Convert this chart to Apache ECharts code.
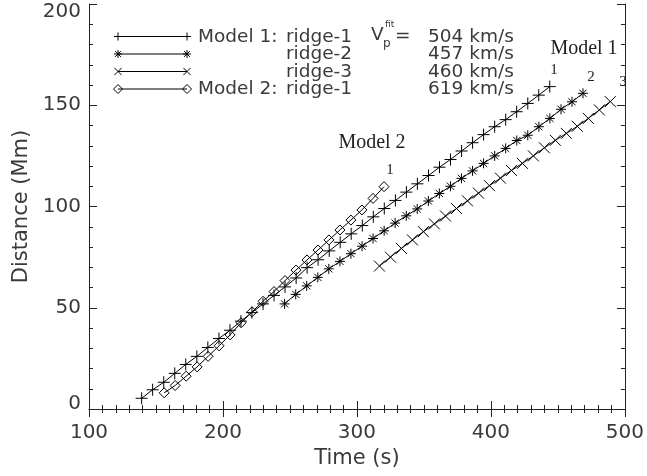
<!DOCTYPE html>
<html>
<head>
<meta charset="utf-8">
<script src="https://cdn.jsdelivr.net/npm/echarts@6/dist/echarts.min.js"></script>
<style>
  html, body { margin: 0; padding: 0; background: #fff; }
  #chart { width: 647px; height: 476px; }
</style>
</head>
<body>
<div id="chart"></div>
<script>
// Ridge tracks: time (s) and front distance (Mm)
const m1r1Time = [139.3, 147.5, 155.8, 164.0, 172.2, 180.5, 188.7, 197.0, 205.2, 213.4,
                  221.6, 229.9, 238.1, 246.3, 254.6, 262.8, 271.0, 279.3, 287.5, 295.7,
                  304.0, 312.2, 320.4, 328.7, 336.9, 345.1, 353.4, 361.6, 369.8, 378.1,
                  386.3, 394.5, 402.8, 411.0, 419.2, 427.5, 435.7, 443.9];
const m1r1Dist = [5.3, 9.5, 13.2, 17.6, 22.0, 26.0, 30.4, 34.8, 38.9, 43.4,
                  47.6, 51.9, 56.1, 60.3, 64.7, 69.8, 73.7, 78.1, 82.3, 86.5,
                  90.6, 94.9, 99.0, 103.0, 107.1, 111.2, 115.3, 119.4, 123.2, 127.4,
                  131.5, 135.5, 139.4, 142.9, 146.8, 150.9, 155.0, 159.2];

const m1r2Time = [246.0, 254.3, 262.5, 270.8, 279.0, 287.3, 295.5, 303.8, 312.0, 320.3,
                  328.5, 336.8, 345.0, 353.3, 361.5, 369.8, 378.0, 386.3, 394.5, 402.8,
                  411.0, 419.3, 427.5, 435.8, 444.0, 452.3, 460.5, 468.7];
const m1r2Dist = [51.9, 56.6, 60.8, 65.0, 69.2, 72.9, 76.7, 80.4, 84.2, 88.0,
                  91.8, 95.4, 98.8, 102.7, 106.4, 110.0, 113.9, 117.6, 121.3, 125.0,
                  128.7, 132.6, 135.2, 139.4, 143.5, 148.0, 151.7, 155.9];

const m1r3Time = [316.8, 325.0, 333.2, 341.4, 349.6, 357.8, 366.1, 374.3, 382.5, 390.7,
                  398.9, 407.1, 415.3, 423.5, 431.7, 439.9, 448.1, 456.3, 464.5, 472.7,
                  480.9, 489.1];
const m1r3Dist = [70.6, 75.0, 79.3, 83.5, 87.6, 91.4, 95.3, 99.0, 102.8, 106.6,
                  110.3, 114.0, 117.8, 121.3, 125.0, 129.0, 132.7, 136.1, 139.6, 143.5,
                  147.7, 151.8];

const m2r1Time = [156.1, 164.3, 172.5, 180.7, 188.9, 197.1, 205.3, 213.5, 221.7, 229.9,
                  238.1, 246.3, 254.5, 262.7, 270.9, 279.1, 287.3, 295.5, 303.7, 312.0,
                  320.2];
const m2r1Dist = [8.0, 11.6, 16.2, 20.8, 26.0, 31.2, 36.6, 42.6, 48.0, 53.2,
                  58.0, 63.4, 68.6, 73.6, 78.5, 83.5, 88.4, 93.3, 98.3, 104.0,
                  109.8];

// Legend rows
const legendModel = ['Model 1:', '', '', 'Model 2:'];
const legendRidge = ['ridge-1', 'ridge-2', 'ridge-3', 'ridge-1'];
const fitSpeed = [504, 457, 460, 619];           // km/s
const legendMarker = ['plus', 'star', 'cross', 'diamond'];

// Axis ranges
const xRange = [100, 500, 100];
const yRange = [0, 200, 50];

// Marker shapes as stroke segments (unit half-size 5)
const markerSegs = {
  plus:  [[0, -5, 0, 5], [-5, 0, 5, 0]],
  cross: [[-4.5, -4.5, 4.5, 4.5], [-4.5, 4.5, 4.5, -4.5]],
  star:  [[0, -5, 0, 5], [-5, 0, 5, 0], [-3.6, -3.6, 3.6, 3.6], [-3.6, 3.6, 3.6, -3.6]]
};
function symbolPath(kind) {
  if (kind === 'diamond') return 'path://M0 -5L5 0L0 5L-5 0Z';
  return 'path://' + markerSegs[kind].map(s => `M${s[0]} ${s[1]}L${s[2]} ${s[3]}`).join('');
}
function markerGraphic(kind, cx, cy) {
  const st = { stroke: '#000', lineWidth: 1, fill: 'none' };
  if (kind === 'diamond') {
    return [{ type: 'polygon', shape: { points: [[cx, cy - 4.5], [cx + 4.5, cy], [cx, cy + 4.5], [cx - 4.5, cy]] }, style: st }];
  }
  return markerSegs[kind].map(s => ({
    type: 'line',
    shape: { x1: cx + s[0] * 0.8, y1: cy + s[1] * 0.8, x2: cx + s[2] * 0.8, y2: cy + s[3] * 0.8 },
    style: st
  }));
}

const zip = (t, d) => t.map((v, i) => [v, d[i]]);

const sansFont = '"DejaVu Sans", sans-serif';
const serifFont = '"Liberation Serif", "Times New Roman", serif';
const textColor = '#3a3a3a';
const axisColor = '#222';

function lineSeries(name, data, kind, size) {
  return {
    name, type: 'line', data,
    symbol: symbolPath(kind), symbolSize: size,
    showAllSymbol: true,
    lineStyle: { color: '#000', width: 1 },
    itemStyle: { color: 'rgba(0,0,0,0)', borderColor: '#000', borderWidth: 1 },
    emphasis: { disabled: true },
    animation: false
  };
}

// Legend and annotation graphics
const graphics = [];
const rowY = [36.5, 54, 71.5, 89];
const legendFont = 18.5;
rowY.forEach((y, i) => {
  graphics.push({ type: 'line', shape: { x1: 118, y1: y, x2: 187, y2: y }, style: { stroke: '#000', lineWidth: 1 } });
  graphics.push(...markerGraphic(legendMarker[i], 118, y));
  graphics.push(...markerGraphic(legendMarker[i], 187, y));
  if (legendModel[i]) {
    graphics.push({ type: 'text', x: 198, y: y + 0.5,
      style: { text: legendModel[i], fontSize: legendFont, fontFamily: sansFont, fill: textColor, align: 'left', verticalAlign: 'middle' } });
  }
  graphics.push({ type: 'text', x: 286, y: y + 0.5,
    style: { text: legendRidge[i], fontSize: legendFont, fontFamily: sansFont, fill: textColor, align: 'left', verticalAlign: 'middle' } });
  graphics.push({ type: 'text', x: 428, y: y + 0.5,
    style: { text: fitSpeed[i] + ' km/s', fontSize: legendFont, fontFamily: sansFont, fill: textColor, align: 'left', verticalAlign: 'middle' } });
});
// V_p^fit =
graphics.push({ type: 'text', x: 371, y: 35, style: { text: 'V', fontSize: legendFont, fontFamily: sansFont, fill: textColor, align: 'left', verticalAlign: 'middle' } });
graphics.push({ type: 'text', x: 383, y: 44, style: { text: 'p', fontSize: 12, fontFamily: sansFont, fill: textColor, align: 'left', verticalAlign: 'middle' } });
graphics.push({ type: 'text', x: 385, y: 25, style: { text: 'fit', fontSize: 9, fontFamily: sansFont, fill: textColor, align: 'left', verticalAlign: 'middle' } });
graphics.push({ type: 'text', x: 395, y: 36, style: { text: '=', fontSize: legendFont, fontFamily: sansFont, fill: textColor, align: 'left', verticalAlign: 'middle' } });

// Model annotations
const serifLabels = [
  ['Model 2', 372, 143, 20], ['1', 390, 170, 15],
  ['Model 1', 584, 49, 20], ['1', 554, 70, 15], ['2', 591, 77, 15], ['3', 623, 82, 15]
];
serifLabels.forEach(([t, x, y, fs]) => {
  graphics.push({ type: 'text', x, y, z: 1,
    style: { text: t, fontSize: fs, fontFamily: serifFont, fill: '#222', align: 'center', verticalAlign: 'middle' } });
});

const tickCommon = {
  axisLine: { show: true, lineStyle: { color: axisColor, width: 1 } },
  axisTick: { show: true, inside: true, length: 8, lineStyle: { color: axisColor } },
  splitLine: { show: false }
};

const chart = echarts.init(document.getElementById('chart'), null, { renderer: 'canvas' });
chart.setOption({
  animation: false,
  backgroundColor: '#fff',
  grid: { left: 89, right: 21, top: 4, bottom: 67 },
  xAxis: [
    Object.assign({
      type: 'value', min: xRange[0], max: xRange[1], interval: xRange[2], position: 'bottom',
      minorTick: { show: true, splitNumber: 10, length: 4, lineStyle: { color: axisColor } },
      axisLabel: { fontSize: 20, fontFamily: sansFont, color: textColor, margin: 14 },
      name: 'Time (s)', nameLocation: 'middle', nameGap: 34,
      nameTextStyle: { fontSize: 21, fontFamily: sansFont, color: textColor }
    }, tickCommon),
    Object.assign({
      type: 'value', min: xRange[0], max: xRange[1], interval: xRange[2], position: 'top',
      minorTick: { show: true, splitNumber: 10, length: 4, lineStyle: { color: axisColor } },
      axisLabel: { show: false }
    }, tickCommon)
  ],
  yAxis: [
    Object.assign({
      type: 'value', min: yRange[0], max: yRange[1], interval: yRange[2], position: 'left',
      minorTick: { show: true, splitNumber: 5, length: 4, lineStyle: { color: axisColor } },
      axisLabel: {
        fontSize: 20, fontFamily: sansFont, color: textColor, margin: 8,
        formatter: v => v === yRange[1] ? '{t|' + v + '}' : (v === yRange[0] ? '{b|' + v + '}' : String(v)),
        rich: {
          t: { fontSize: 20, fontFamily: sansFont, color: textColor, padding: [16, 0, 0, 0] },
          b: { fontSize: 20, fontFamily: sansFont, color: textColor, padding: [0, 0, 10, 0] }
        }
      },
      name: 'Distance (Mm)', nameLocation: 'middle', nameGap: 47,
      nameTextStyle: { fontSize: 21, fontFamily: sansFont, color: textColor }
    }, tickCommon),
    Object.assign({
      type: 'value', min: yRange[0], max: yRange[1], interval: yRange[2], position: 'right',
      minorTick: { show: true, splitNumber: 5, length: 4, lineStyle: { color: axisColor } },
      axisLabel: { show: false }
    }, tickCommon)
  ],
  series: [
    lineSeries('Model 1: ridge-1', zip(m1r1Time, m1r1Dist), 'plus', 12),
    lineSeries('Model 1: ridge-2', zip(m1r2Time, m1r2Dist), 'star', 10),
    lineSeries('Model 1: ridge-3', zip(m1r3Time, m1r3Dist), 'cross', 11),
    lineSeries('Model 2: ridge-1', zip(m2r1Time, m2r1Dist), 'diamond', 10)
  ],
  graphic: graphics
});
</script>
</body>
</html>
